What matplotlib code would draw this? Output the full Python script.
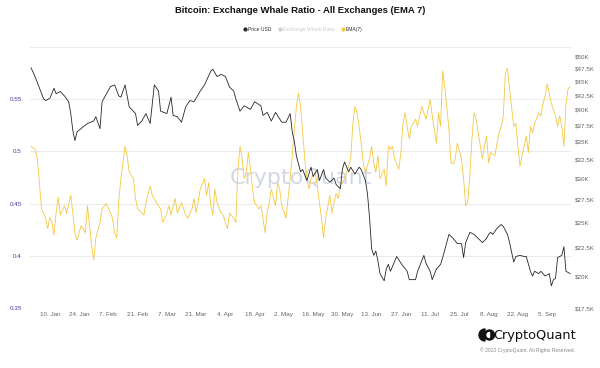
import numpy as np
import matplotlib
matplotlib.use("Agg")
from matplotlib import pyplot as plt
from matplotlib.lines import Line2D
from matplotlib.patches import Wedge, Circle
from matplotlib.ticker import NullLocator

# ---- data ----
start = np.datetime64("2022-01-01")

# price, days since 1 Jan 2022, in USD thousands
price_day = [0, 2, 6, 7, 9, 11, 12, 14, 16, 18, 19, 20, 21, 22, 25, 27, 30, 31, 33, 34,
             38, 40, 42, 43, 45, 47, 50, 51, 53, 55, 57, 59, 61, 62, 65, 67, 68, 70, 72, 74,
             76, 78, 81, 83, 86, 87, 89, 91, 93, 95, 97, 98, 100, 102, 105, 107, 110, 111, 113, 115,
             117, 120, 122, 124, 125, 126, 127, 129, 130, 132, 134, 135, 137, 138, 140, 141, 143, 145, 146, 148,
             149, 150, 152, 153, 155, 157, 158, 160, 161, 162, 163, 164, 165, 166, 167, 169, 170, 171, 172, 175,
             177, 180, 181, 184, 185, 188, 189, 191, 192, 194, 196, 197, 200, 202, 204, 206, 207, 208, 210, 212,
             214, 216, 218, 219, 220, 221, 223, 225, 226, 228, 229, 231, 232, 234, 236, 237, 239, 240, 241, 243,
             244, 246, 248, 249, 250, 251, 252, 254, 255, 256, 258]
price_k = [47.7, 45.9, 41.9, 41.6, 42.0, 43.8, 42.8, 43.2, 42.4, 41.4, 39.4, 36.7, 35.2, 36.5, 37.3, 37.8, 38.2, 38.9, 37.0, 41.4,
           44.1, 44.4, 42.4, 42.2, 44.4, 40.5, 39.4, 37.5, 38.2, 39.4, 37.8, 44.4, 43.3, 39.8, 39.4, 42.2, 39.1, 38.9, 38.0, 40.5,
           41.6, 41.4, 43.3, 44.4, 47.0, 47.4, 46.0, 46.4, 46.0, 44.0, 43.3, 41.9, 39.8, 40.7, 40.1, 41.4, 40.7, 39.1, 39.6, 38.2,
           39.6, 38.0, 38.0, 39.4, 36.5, 35.1, 33.0, 30.9, 31.2, 29.8, 31.5, 30.3, 31.2, 29.8, 31.2, 30.1, 29.6, 30.1, 29.3, 28.8,
           31.2, 32.2, 30.9, 31.5, 30.6, 31.5, 31.2, 29.8, 28.2, 25.5, 22.4, 21.8, 22.2, 21.3, 20.2, 19.6, 20.6, 21.0, 20.4, 21.7,
           21.1, 20.4, 19.7, 19.7, 20.4, 21.8, 21.1, 20.4, 19.7, 20.6, 21.0, 21.6, 23.8, 23.4, 22.9, 22.9, 21.6, 23.0, 24.0, 23.8,
           23.4, 23.0, 23.4, 23.8, 24.0, 23.8, 24.4, 24.8, 24.6, 23.8, 23.0, 21.2, 21.7, 21.8, 21.7, 21.7, 20.4, 20.0, 20.4, 20.2,
           20.4, 20.0, 20.2, 19.2, 19.7, 19.8, 21.6, 21.8, 22.6, 20.4, 20.2]

# exchange whale ratio, EMA(7)
ratio_day = [0, 2, 3, 4, 5, 7, 8, 9, 10, 11, 12, 13, 14, 16, 17, 19, 20, 21, 22, 24,
             26, 27, 29, 30, 31, 33, 34, 36, 38, 39, 40, 41, 42, 43, 45, 46, 47, 49, 50, 51,
             53, 54, 55, 57, 58, 60, 62, 63, 65, 66, 67, 69, 70, 72, 74, 75, 77, 78, 79, 81,
             83, 84, 85, 86, 87, 88, 89, 91, 92, 93, 94, 95, 97, 98, 99, 100, 101, 102, 103, 104,
             105, 106, 107, 109, 110, 111, 112, 113, 114, 115, 117, 118, 119, 120, 122, 123, 124, 125, 126, 127,
             128, 129, 130, 131, 132, 133, 134, 136, 137, 138, 139, 140, 141, 143, 144, 145, 146, 147, 148, 150,
             151, 153, 154, 155, 156, 157, 158, 159, 160, 162, 163, 164, 165, 166, 167, 169, 170, 171, 172, 173,
             174, 176, 177, 178, 179, 180, 181, 182, 184, 185, 186, 187, 189, 190, 191, 192, 193, 194, 195, 196,
             197, 198, 200, 201, 202, 203, 204, 206, 207, 208, 209, 210, 211, 212, 213, 215, 216, 217, 218, 219,
             220, 222, 223, 224, 225, 226, 227, 228, 229, 231, 232, 233, 234, 236, 237, 238, 239, 240, 241, 243,
             244, 245, 246, 247, 249, 250, 251, 252, 253, 254, 255, 256, 257, 258]
ratio_ema7 = [.505, .502, .493, .470, .445, .436, .426, .437, .432, .420, .441, .456, .439, .448, .441, .458, .441, .422, .415, .429,
              .422, .448, .410, .396, .417, .432, .445, .450, .441, .436, .422, .417, .453, .474, .505, .496, .480, .474, .455, .445,
              .441, .439, .451, .467, .458, .451, .445, .432, .441, .448, .439, .455, .441, .451, .439, .436, .445, .455, .441, .464,
              .474, .458, .470, .448, .439, .464, .451, .441, .439, .432, .426, .441, .436, .432, .483, .505, .493, .474, .480, .499,
              .483, .464, .451, .445, .448, .436, .422, .441, .451, .464, .448, .470, .464, .448, .436, .455, .474, .496, .521, .543,
              .556, .543, .518, .493, .474, .464, .474, .480, .467, .451, .436, .417, .436, .458, .441, .451, .460, .455, .467, .474,
              .480, .493, .527, .543, .537, .524, .508, .489, .480, .493, .505, .489, .480, .496, .474, .483, .467, .505, .502, .505,
              .493, .483, .499, .527, .537, .524, .512, .524, .531, .524, .534, .543, .531, .540, .550, .534, .521, .508, .537, .524,
              .577, .562, .521, .489, .488, .493, .508, .493, .474, .448, .451, .477, .512, .537, .531, .505, .493, .505, .515, .489,
              .499, .496, .508, .518, .524, .534, .575, .580, .560, .524, .527, .505, .486, .505, .515, .499, .524, .518, .527, .537,
              .534, .546, .553, .565, .546, .540, .534, .524, .534, .524, .505, .545, .560, .562]

ratio_ticks = [0.35, 0.4, 0.45, 0.5, 0.55, 0.6]
ratio_labels = ["0.35", "0.4", "0.45", "0.5", "0.55", ""]
price_ticks = [17.5, 20, 22.5, 25, 27.5, 30, 32.5, 35, 37.5, 40, 42.5, 45, 47.5, 50]
price_labels = ["$17.5K", "$20K", "$22.5K", "$25K", "$27.5K", "$30K", "$32.5K", "$35K",
                "$37.5K", "$40K", "$42.5K", "$45K", "$47.5K", "$50K"]
date_ticks = ["2022-01-10", "2022-01-24", "2022-02-07", "2022-02-21", "2022-03-07", "2022-03-21",
              "2022-04-04", "2022-04-18", "2022-05-02", "2022-05-16", "2022-05-30", "2022-06-13",
              "2022-06-27", "2022-07-11", "2022-07-25", "2022-08-08", "2022-08-22", "2022-09-05"]
date_labels = ["10. Jan", "24. Jan", "7. Feb", "21. Feb", "7. Mar", "21. Mar", "4. Apr", "18. Apr",
               "2. May", "16. May", "30. May", "13. Jun", "27. Jun", "11. Jul", "25. Jul", "8. Aug",
               "22. Aug", "5. Sep"]

PRICE_COLOR = "#262626"
EMA_COLOR = "#F5C842"


def main():
    plt.rcParams["font.family"] = ["Liberation Sans", "DejaVu Sans"]
    fig = plt.figure(figsize=(6, 3.68), dpi=100)
    ax = fig.add_axes([0.05, 0.163, 0.902, 0.709])
    ax2 = ax.twinx()

    price_x = start + np.array(price_day).astype("timedelta64[D]")
    ratio_x = start + np.array(ratio_day).astype("timedelta64[D]")

    ax.plot(ratio_x, ratio_ema7, color=EMA_COLOR, lw=0.6, zorder=3)
    ax2.plot(price_x, np.array(price_k) * 1000, color=PRICE_COLOR, lw=0.6, zorder=3)

    # left axis: whale ratio
    ax.set_ylim(0.35, 0.6)
    ax.set_yticks(ratio_ticks)
    ax.set_yticklabels(ratio_labels)
    ax.grid(axis="y", color="#e6e6e6", lw=0.6)
    ax.grid(axis="x", visible=False)
    ax.tick_params(axis="y", length=0, labelsize=4.5, labelcolor="#3f3fa0", pad=6)

    # right axis: price, log
    ax2.set_yscale("log")
    ax2.set_ylim(17500, 52000)
    ax2.set_yticks([v * 1000 for v in price_ticks])
    ax2.set_yticklabels(price_labels)
    ax2.yaxis.set_minor_locator(NullLocator())
    ax2.tick_params(axis="y", length=0, labelsize=4.5, labelcolor="#666666", pad=3)

    # x axis
    ax.set_xlim(start - np.timedelta64(12, "h"), start + np.timedelta64(258, "D") + np.timedelta64(12, "h"))
    ax.set_xticks([np.datetime64(d) for d in date_ticks])
    ax.set_xticklabels(date_labels)
    ax.tick_params(axis="x", length=0, labelsize=4.5, labelcolor="#666666", pad=3)

    for a in (ax, ax2):
        for s in a.spines.values():
            s.set_visible(False)

    # watermark
    ax.text(0.5, 0.5, "CryptoQuant", transform=ax.transAxes, ha="center", va="center",
            fontsize=16, color="#c9cedb", alpha=0.8, zorder=1, family="DejaVu Sans")

    # title + legend
    fig.text(0.5, 0.972, "Bitcoin: Exchange Whale Ratio - All Exchanges (EMA 7)",
             ha="center", va="center", fontsize=6.8, fontweight="bold", color="#111111")
    handles = [
        Line2D([], [], color=PRICE_COLOR, marker="o", ls="", ms=2),
        Line2D([], [], color="#cccccc", marker="o", ls="", ms=2),
        Line2D([], [], color=EMA_COLOR, marker="o", ls="", ms=2),
    ]
    leg = fig.legend(handles, ["Price USD", "Exchange Whale Ratio", "EMA(7)"], loc="center",
                     bbox_to_anchor=(0.505, 0.921), ncol=3, frameon=False, fontsize=3.6,
                     handletextpad=0.1, columnspacing=1.4, handlelength=0.8)
    leg.get_texts()[0].set_color("#333333")
    leg.get_texts()[1].set_color("#cccccc")
    leg.get_texts()[2].set_color("#333333")

    # logo bottom right
    fig.text(0.96, 0.089, "CryptoQuant", ha="right", va="center", fontsize=9.3,
             color="#111111", family="DejaVu Sans")
    fig.text(0.958, 0.048, "\u00a9 2022 CryptoQuant. All Rights Reserved.", ha="right", va="center",
             fontsize=3.6, color="#888888")
    lax = fig.add_axes([477 / 600, 1 - 343 / 368, 20 / 600, 16 / 368])
    lax.set_xlim(0, 20)
    lax.set_ylim(0, 16)
    lax.set_aspect("equal")
    lax.axis("off")
    lax.add_patch(Wedge((8, 8), 6, 90, 270, color="#111111"))
    lax.add_patch(Circle((12.5, 8), 5, color="#111111"))
    lax.add_patch(Wedge((12.5, 8), 2.5, 90, 270, color="white"))

    fig.savefig("out.png", dpi=100)


if __name__ == "__main__":
    main()
